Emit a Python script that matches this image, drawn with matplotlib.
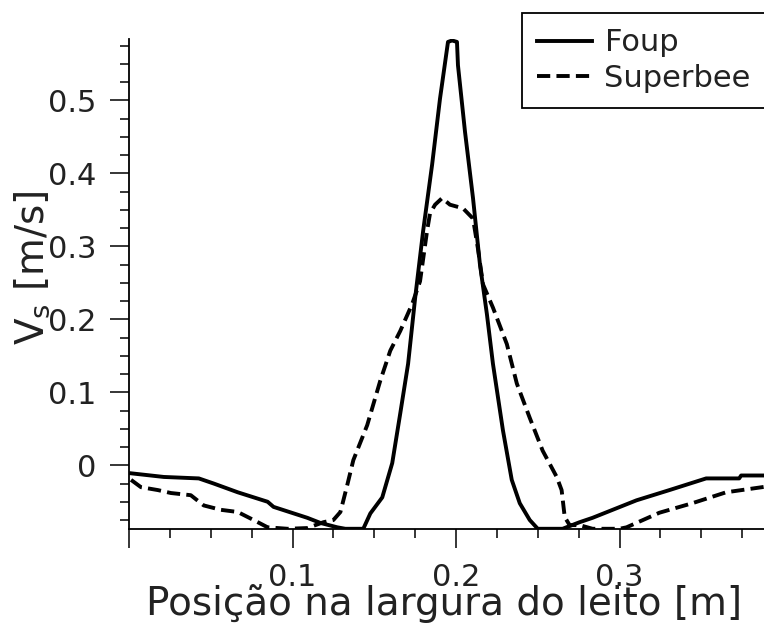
import matplotlib
matplotlib.use("Agg")
from matplotlib import pyplot as plt
from matplotlib.ticker import MultipleLocator

# Foup
x_foup = [0.00125, 0.0213, 0.0427, 0.0518, 0.0665, 0.0848, 0.0884, 0.1091, 0.1171,
          0.1274, 0.1323, 0.1433, 0.1476, 0.1549, 0.161, 0.1659, 0.1707, 0.175,
          0.1799, 0.1854, 0.1902, 0.1951, 0.1976, 0.2006, 0.2012, 0.2055, 0.2104,
          0.2146, 0.2189, 0.2226, 0.2287, 0.2341, 0.239, 0.2451, 0.25, 0.2652,
          0.2756, 0.2835, 0.3104, 0.3305, 0.353, 0.3732, 0.3744, 0.39875]
v_foup = [-0.011, -0.016, -0.018, -0.025, -0.037, -0.050, -0.057, -0.072, -0.079,
          -0.085, -0.087, -0.087, -0.066, -0.044, 0.003, 0.071, 0.139, 0.229,
          0.321, 0.412, 0.502, 0.580, 0.582, 0.580, 0.548, 0.457, 0.366,
          0.276, 0.207, 0.139, 0.048, -0.020, -0.052, -0.075, -0.087, -0.087,
          -0.078, -0.072, -0.048, -0.034, -0.018, -0.018, -0.014, -0.014]

# Superbee
x_sb = [0.00125, 0.0073, 0.0177, 0.0256, 0.0378, 0.0457, 0.0561, 0.0665, 0.0762,
        0.0848, 0.097, 0.1091, 0.1189, 0.125, 0.1293, 0.1335, 0.1372, 0.1457,
        0.1537, 0.1598, 0.1659, 0.1732, 0.178, 0.1823, 0.1841, 0.1872, 0.1915,
        0.1963, 0.2043, 0.2104, 0.2134, 0.2165, 0.2226, 0.2311, 0.2372, 0.2451,
        0.253, 0.2616, 0.2646, 0.2665, 0.2695, 0.2756, 0.2835, 0.3, 0.3043,
        0.3244, 0.3445, 0.3652, 0.3872, 0.39875]
v_sb = [-0.020, -0.030, -0.034, -0.038, -0.041, -0.055, -0.061, -0.064, -0.075,
        -0.085, -0.087, -0.086, -0.078, -0.075, -0.064, -0.027, 0.007, 0.055,
        0.116, 0.157, 0.184, 0.221, 0.252, 0.321, 0.345, 0.357, 0.366,
        0.357, 0.352, 0.338, 0.297, 0.248, 0.216, 0.166, 0.112, 0.065,
        0.020, -0.016, -0.034, -0.071, -0.082, -0.082, -0.087, -0.087, -0.085,
        -0.065, -0.052, -0.037, -0.030, -0.026]

x_ticks = [0.0, 0.1, 0.2, 0.3]
x_ticklabels = ['', '0.1', '0.2', '0.3']
y_ticks = [0.0, 0.1, 0.2, 0.3, 0.4, 0.5]
y_ticklabels = ['0', '0.1', '0.2', '0.3', '0.4', '0.5']

fig = plt.figure(figsize=(7.64, 6.23), dpi=100)
ax = fig.add_axes([129 / 764, 94 / 623, 654 / 764, 490 / 623])

ax.plot(x_foup, v_foup, color='black', lw=2.8, label='Foup')
ax.plot(x_sb, v_sb, color='black', lw=2.8, ls='--', dashes=(3.4, 1.6),
        label='Superbee')

ax.set_xlim(0, 0.4)
ax.set_ylim(-0.0873, 0.584)

ax.spines['top'].set_visible(False)
ax.spines['right'].set_visible(False)
ax.spines['left'].set_linewidth(1.3)
ax.spines['bottom'].set_linewidth(1.3)

ax.set_xticks(x_ticks)
ax.set_xticklabels(x_ticklabels)
ax.set_yticks(y_ticks)
ax.set_yticklabels(y_ticklabels)
ax.xaxis.set_minor_locator(MultipleLocator(0.025))
ax.yaxis.set_minor_locator(MultipleLocator(0.025))
ax.tick_params(which='major', direction='out', length=13.5, width=1.1,
               labelsize=22, labelcolor='#222222', pad=10)
ax.tick_params(which='minor', direction='out', length=6.8, width=1.1)
ax.tick_params(axis='x', which='major', pad=11)

ax.set_xlabel('Posição na largura do leito [m]', fontsize=28, color='#222222')
ax.xaxis.set_label_coords(0.4817, -0.113)
ax.set_ylabel(r'V$_\mathregular{s}$ [m/s]', fontsize=28, color='#222222')
ax.yaxis.set_label_coords(-0.118, 0.534)

leg = fig.legend(loc='upper left', bbox_to_anchor=(522 / 764, 1 - 13 / 623),
                 fontsize=22, frameon=True, fancybox=False, framealpha=1,
                 edgecolor='black', labelspacing=0.22, handletextpad=0.4,
                 handlelength=1.8, borderpad=0.5, borderaxespad=0,
                 labelcolor='#222222')
leg.get_frame().set_linewidth(1.3)

fig.savefig('out.png', dpi=100)
